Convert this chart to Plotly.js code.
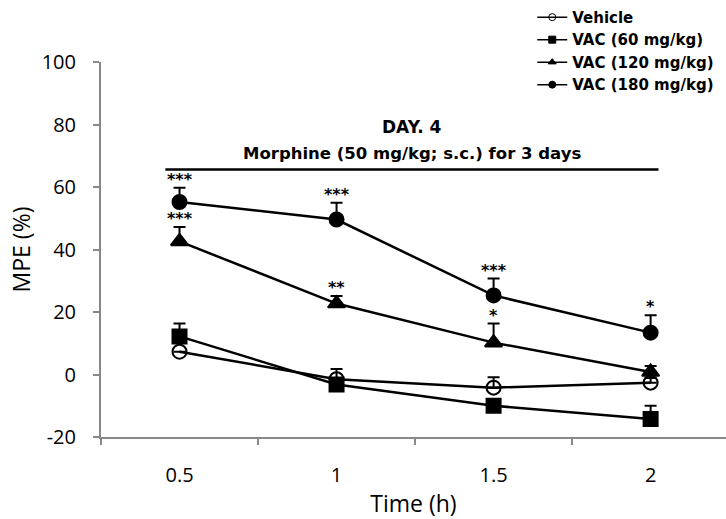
<!DOCTYPE html>
<html><head><meta charset="utf-8">
<script src="https://cdn.plot.ly/plotly-3.0.1.min.js"></script>
<style>html,body{margin:0;padding:0;background:#fff}</style>
</head><body><div id="chart" style="width:726px;height:519px"></div>
<script>
const times = ["0.5", "1", "1.5", "2"];
const seriesNames = ["Vehicle", "VAC (60 mg/kg)", "VAC (120 mg/kg)", "VAC (180 mg/kg)"];
const vehicle = [7.3, -1.5, -4.2, -2.6];
const vehicleErr = [0, 3.3, 3.3, 1.5];
const vac60 = [12.2, -3.2, -10, -14.2];
const vac60Err = [4.1, 0, 0, 4.2];
const vac120 = [42.6, 22.7, 10.2, 0.8];
const vac120Err = [4.6, 2.4, 6.1, 1.9];
const vac180 = [55.2, 49.6, 25.3, 13.4];
const vac180Err = [4.6, 5.4, 5.4, 5.6];
const sig120 = ["***", "**", "*", ""];
const sig180 = ["***", "***", "***", "*"];
const yTickVals = [-20, 0, 20, 40, 60, 80, 100];
const yTickText = ["-20", "0", "20", "40", "60", "80", "100"];
const title1 = "DAY. 4";
const title2 = "Morphine (50 mg/kg; s.c.) for 3 days";
const morphineLevel = 65.6;

const symbols = ["circle-open", "square", "triangle-up", "circle"];
const vals = [vehicle, vac60, vac120, vac180];
const errs = [vehicleErr, vac60Err, vac120Err, vac180Err];

const traces = vals.map((v, i) => ({
  type: "scatter", mode: "lines+markers", name: seriesNames[i], showlegend: false,
  x: times, y: v,
  line: {color: "#000", width: 2.5},
  marker: {symbol: symbols[i], size: i === 2 ? 15 : 14, color: "#000",
           line: {color: "#000", width: 2}},
  error_y: {type: "data", symmetric: false, array: errs[i], arrayminus: errs[i].map(() => 0),
            color: "#000", thickness: 2, width: 6}
}));
// legend entries (small symbols, as in the original key)
seriesNames.forEach((n, i) => traces.push({
  type: "scatter", mode: "lines+markers", name: n, x: [null], y: [null], showlegend: true,
  line: {color: "#000", width: 1.5},
  marker: {symbol: symbols[i], size: 7, color: "#000", line: {color: "#000", width: 1}}
}));

const starFont = {size: 16, color: "#000", family: "DejaVu Sans", weight: "bold"};
const ann = [];
times.forEach((t, k) => {
  if (sig120[k]) ann.push({x: k, y: vac120[k] + vac120Err[k], text: sig120[k], showarrow: false,
    yanchor: "bottom", yshift: -3, font: starFont});
  if (sig180[k]) ann.push({x: k, y: vac180[k] + vac180Err[k], text: sig180[k], showarrow: false,
    yanchor: "bottom", yshift: -3, font: starFont});
});
ann.push({xref: "paper", yref: "paper", x: 0.497, y: 0.827, yanchor: "middle", text: title1, showarrow: false,
  font: {size: 17, color: "#000", family: "DejaVu Sans", weight: "bold"}});
ann.push({xref: "paper", yref: "paper", x: 0.497, y: 0.757, yanchor: "middle", text: title2, showarrow: false,
  font: {size: 16.5, color: "#000", family: "DejaVu Sans", weight: "bold"}});

const layout = {
  width: 726, height: 519,
  margin: {l: 101, r: 0, t: 62, b: 82},
  paper_bgcolor: "#fff", plot_bgcolor: "#fff",
  font: {family: "Open Sans", color: "#000"},
  showlegend: true,
  legend: {x: 0.69, y: 1.163, xanchor: "left", yanchor: "top", bgcolor: "rgba(0,0,0,0)",
    font: {size: 15, family: "DejaVu Sans", weight: "bold"}, tracegroupgap: 0,
    itemwidth: 30},
  xaxis: {type: "category", range: [-0.5, 3.48], tickson: "boundaries",
    showline: true, linecolor: "#888", linewidth: 2,
    ticks: "outside", ticklen: 6, tickcolor: "#888", tickwidth: 2,
    showgrid: false, zeroline: false, ticklabelstandoff: 19,
    tickfont: {size: 20, family: "Open Sans"},
    title: {text: "Time (h)", font: {size: 23, family: "Open Sans"}, standoff: 10}},
  yaxis: {range: [-20, 100], tickmode: "array", tickvals: yTickVals, ticktext: yTickText,
    showline: true, linecolor: "#888", linewidth: 2,
    ticks: "outside", ticklen: 6, tickcolor: "#888", tickwidth: 2,
    showgrid: false, zeroline: false, ticklabelstandoff: 13, automargin: false,
    tickfont: {size: 20, family: "Open Sans"},
    title: {text: "MPE (%)", font: {size: 23, family: "Open Sans"}, standoff: 5}},
  shapes: [{type: "line", xref: "x", yref: "y", x0: -0.09, x1: 3.05,
    y0: morphineLevel, y1: morphineLevel, line: {color: "#000", width: 2.5}}],
  annotations: ann
};
Plotly.newPlot("chart", traces, layout, {displayModeBar: false, staticPlot: true});
</script></body></html>
